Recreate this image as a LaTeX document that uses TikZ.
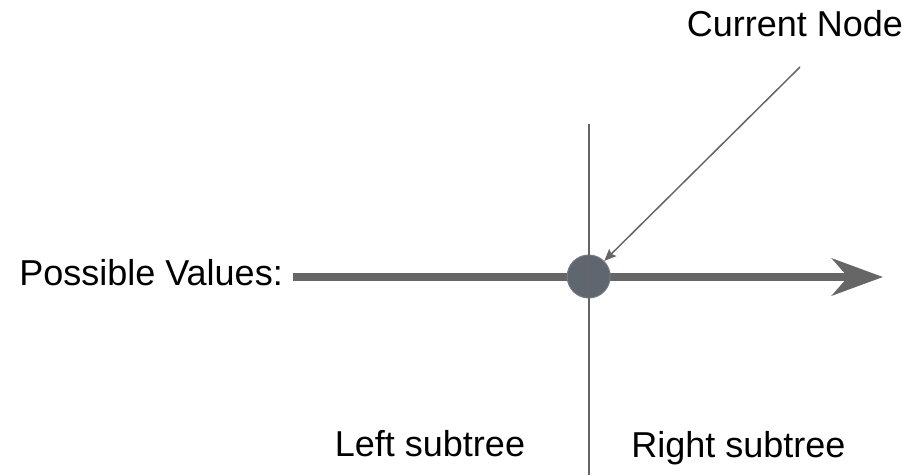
\documentclass[tikz,border=0pt]{standalone}
\usepackage{fontspec}
\setmainfont{Liberation Sans}
\usetikzlibrary{arrows.meta}
\definecolor{linegray}{HTML}{666666}
\definecolor{nodefill}{HTML}{5F6670}
\definecolor{nodeedge}{HTML}{787C82}
\tikzset{
  label text/.style={font=\fontsize{36}{40}\selectfont, inner sep=0pt, text=black},
  axisline/.style={draw=linegray, line width=8pt, -{Stealth[length=51pt, width=37pt, inset=16pt]}},
  splitline/.style={draw=linegray, line width=2pt},
  pointer/.style={draw=linegray, line width=1.5pt, -{Stealth[length=12pt, width=10pt, inset=2pt]}},
  curnode/.style={circle, minimum size=43pt, inner sep=0pt, fill=nodefill, draw=nodeedge, line width=1pt}
}
\begin{document}
\begin{tikzpicture}[x=1pt, y=-1pt]
  \useasboundingbox (0,0) rectangle (911,475);
  % texts
  \node[label text, anchor=base east] (pv) at (283,285) {Possible Values:};
  \node[label text, anchor=base] (cn) at (795,36) {Current Node};
  \node[label text, anchor=base] (ls) at (430,456) {Left subtree};
  \node[label text, anchor=base] (rs) at (738.5,457) {Right subtree};
  % coordinates
  \coordinate (hs) at (293,277);
  \coordinate (he) at (883,277);
  \coordinate (vt) at (588.7,124);
  \coordinate (vb) at (588.7,475);
  \coordinate (ps) at (800,67);
  % axis
  \draw[axisline] (hs) -- (he);
  % current node
  \node[curnode] (c) at (588.7,276.5) {};
  % split line
  \draw[splitline] (vt) -- (vb);
  % pointer
  \draw[pointer] (ps) -- (c.45);
\end{tikzpicture}
\end{document}
